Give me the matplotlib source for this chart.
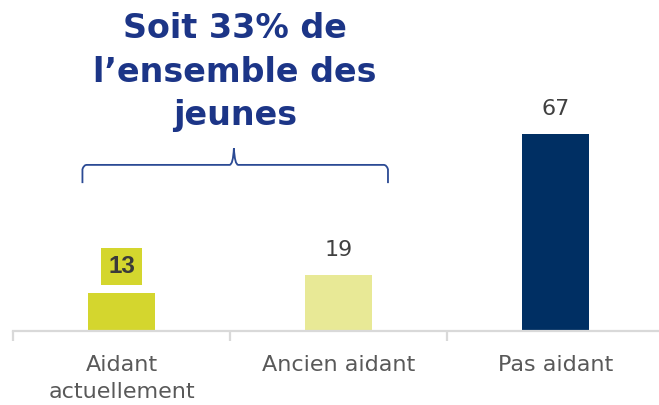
import matplotlib
matplotlib.use("Agg")
import matplotlib.pyplot as plt
from matplotlib.path import Path
from matplotlib.patches import PathPatch

categories = ["Aidant\nactuellement", "Ancien aidant", "Pas aidant"]
values = [13, 19, 67]
bar_colors = ["#D4D62E", "#E8E996", "#002F63"]
title_text = "Soit 33% de\nl\u2019ensemble des\njeunes"

W, H = 659, 405
fig = plt.figure(figsize=(W / 100, H / 100), dpi=100)
ax = fig.add_axes([13 / W, (H - 331) / H, (664 - 13) / W, 294 / H])

x = list(range(len(categories)))
ax.bar(x, values, width=0.313, color=bar_colors, zorder=2)
ax.set_xlim(-0.5, 2.5)
ax.set_ylim(0, 100)

for s in ["top", "right", "left"]:
    ax.spines[s].set_visible(False)
ax.spines["bottom"].set_color("#D9D9D9")
ax.spines["bottom"].set_linewidth(1.6)
ax.set_yticks([])
ax.set_xticks(x)
ax.set_xticklabels(categories, fontsize=16, color="#595959", linespacing=1.45)
ax.tick_params(axis="x", which="major", length=0, pad=17)
ax.set_xticks([-0.5, 0.5, 1.5, 2.5], minor=True)
ax.tick_params(axis="x", which="minor", length=7, width=1.6, color="#D9D9D9")

for i, v in enumerate(values):
    if i == 0:
        ax.annotate(str(v), (i, v), xytext=(0, 19), textcoords="offset points",
                    ha="center", va="center", fontsize=17.5, fontweight="bold",
                    family="Liberation Sans", color="#3A3A3A",
                    bbox=dict(boxstyle="square,pad=0.3", fc=bar_colors[0], ec="none"))
    else:
        ax.annotate(str(v), (i, v), xytext=(0, 18), textcoords="offset points",
                    ha="center", va="center", fontsize=16, color="#404040")

# brace above the first two bars
xl, xr, xm = -0.18, 1.228, 0.518
yb, yh, yt = 50.3, 56.5, 62.2
r = 0.02
verts = [(xl, yb), (xl, yh - 1.5), (xl + r * 0.3, yh), (xl + r, yh),
         (xm - r, yh), (xm - 0.004, yh), (xm, yt),
         (xm + 0.004, yh), (xm + r, yh),
         (xr - r, yh), (xr - r * 0.3, yh), (xr, yh - 1.5), (xr, yb)]
codes = [Path.MOVETO, Path.LINETO, Path.CURVE3, Path.CURVE3,
         Path.LINETO, Path.CURVE3, Path.CURVE3,
         Path.CURVE3, Path.CURVE3,
         Path.LINETO, Path.CURVE3, Path.CURVE3, Path.LINETO]
ax.add_patch(PathPatch(Path(verts, codes), fill=False, ec="#2B4A94", lw=1.3,
                       clip_on=False, capstyle="butt"))

fig.text(235 / W, 1 - 72 / H, title_text, ha="center", va="center",
         fontsize=24, fontweight="bold", color="#1C3587", linespacing=1.42)

fig.savefig("out.png", dpi=100)
